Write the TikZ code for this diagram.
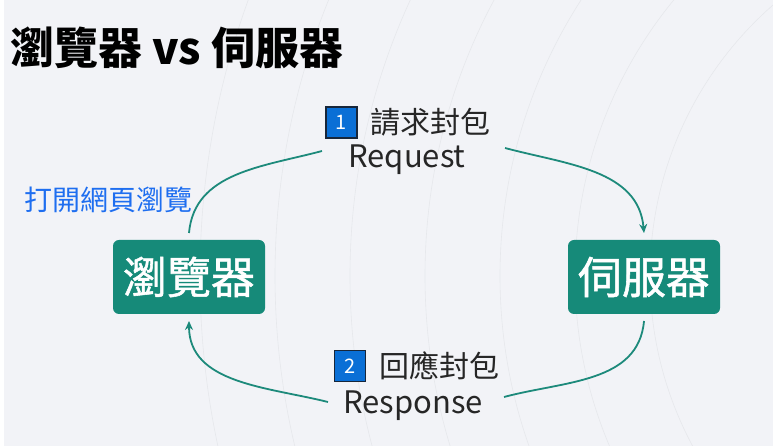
\documentclass[tikz,border=0pt]{standalone}
\usepackage{fontspec}
\setmainfont{Noto Sans CJK TC}
\newfontfamily\hostfont{Noto Sans CJK TC}[FakeBold=1.2]
\usetikzlibrary{arrows.meta,positioning}
\definecolor{pagebg}{HTML}{F2F3F7}
\definecolor{bgline}{HTML}{E6E8EC}
\definecolor{boxgreen}{HTML}{168A79}
\definecolor{linegreen}{HTML}{1D8A7B}
\definecolor{numblue}{HTML}{0A6FD6}
\definecolor{numedge}{HTML}{17263A}
\definecolor{linkblue}{HTML}{1E6EF0}

\begin{document}
\begin{tikzpicture}[x=1pt,y=1pt,>=Stealth,
  host/.style={fill=boxgreen,rounded corners=6pt,minimum width=152pt,minimum height=74pt,
    inner sep=0pt,outer sep=7pt,text=white,font=\hostfont\fontsize{44}{44}\selectfont},
  numbox/.style={fill=numblue,draw=numedge,line width=1.2pt,minimum size=31pt,
    inner sep=0pt,text=white,font=\fontsize{20}{20}\selectfont},
  cjklabel/.style={inner sep=0pt,text=black!85,font=\fontsize{30}{30}\selectfont},
  enlabel/.style={inner sep=0pt,text=black!85,font=\fontsize{31}{31}\selectfont},
  flow/.style={draw=linegreen,line width=1.8pt},
  tip/.style={-{Stealth[length=9pt,width=8pt]}}]

\useasboundingbox (0,0) rectangle (773,446);

%background
\fill[pagebg] (0,0) rectangle (773,446);
\fill[white] (0,0) rectangle (4,446);
\begin{scope}
\clip (4,0) rectangle (773,446);
\foreach \r in {360,435,510,585,660,735,810}
  \draw[bgline,line width=0.6pt] (1010,170) circle (\r);
\draw[bgline,line width=0.6pt] (1060,230) circle (260);
\end{scope}

%title
\node[anchor=west,inner sep=0pt,font=\fontsize{44}{44}\selectfont\bfseries] (title) at (10,398) {瀏覽器 vs 伺服器};

%hosts
\node[host] (browser) at (189,169) {瀏覽器};
\node[host] (server) at (644,169) {伺服器};
\node[inner sep=0pt,text=linkblue,font=\fontsize{28}{28}\selectfont] (open) at (108,246) {打開網頁瀏覽};

%request
\node[numbox] (n1) at (341.5,323.5) {1};
\node[cjklabel,right=13pt of n1] (reqt) {請求封包};
\node[enlabel] (req) at (407,286) {Request};
\coordinate (reqin) at ([shift={(-85,9)}]req.center);
\coordinate (reqout) at ([shift={(98,12)}]req.center);

%response
\node[numbox] (n2) at (350,80) {2};
\node[cjklabel,right=13pt of n2] (respt) {回應封包};
\node[enlabel] (resp) at (413,40) {Response};
\coordinate (respin) at ([shift={(91,9)}]resp.center);
\coordinate (respout) at ([shift={(-85,4)}]resp.center);

%connectors
\draw[flow] (browser.north) to[out=85,in=195] (reqin);
\draw[flow,tip] (reqout) to[out=-15,in=95] (server.north);
\draw[flow] (server.south) to[out=-95,in=15] (respin);
\draw[flow,tip] (respout) to[out=166,in=-90] (browser.south);

\end{tikzpicture}
\end{document}
